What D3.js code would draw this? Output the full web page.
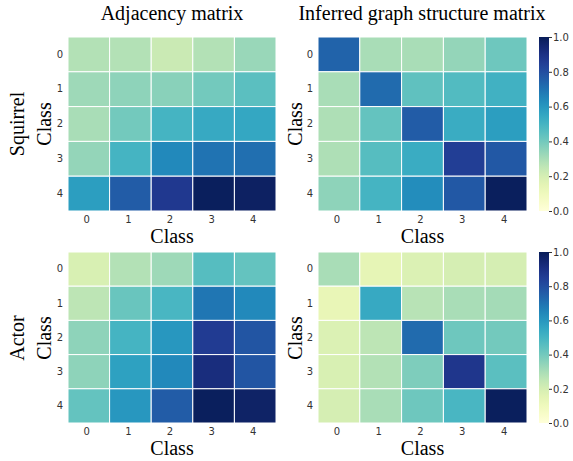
<!DOCTYPE html>
<html>
<head>
<meta charset="utf-8">
<script src="https://cdn.jsdelivr.net/npm/d3@7"></script>
<style>
body { margin: 0; background: #fff; }
svg { display: block; }
.tick text { font-family: "DejaVu Sans", sans-serif; }
</style>
</head>
<body>
<svg id="chart" width="573" height="461"></svg>
<script>
// class indices
var classes = [0, 1, 2, 3, 4];
var cbTicks = [0, 0.2, 0.4, 0.6, 0.8, 1.0];

// values (rows = class 0..4)
var squirrelAdj = [
	[0.28, 0.28, 0.23, 0.28, 0.33],
	[0.32, 0.35, 0.36, 0.40, 0.45],
	[0.30, 0.40, 0.50, 0.54, 0.55],
	[0.34, 0.50, 0.64, 0.70, 0.71],
	[0.58, 0.76, 0.87, 0.99, 0.98]
];
var squirrelInf = [
	[0.74, 0.30, 0.30, 0.34, 0.41],
	[0.30, 0.72, 0.44, 0.47, 0.51],
	[0.29, 0.43, 0.76, 0.53, 0.58],
	[0.29, 0.46, 0.53, 0.85, 0.77],
	[0.35, 0.50, 0.63, 0.77, 0.99]
];
var actorAdj = [
	[0.19, 0.28, 0.32, 0.46, 0.43],
	[0.26, 0.42, 0.49, 0.69, 0.64],
	[0.35, 0.50, 0.60, 0.86, 0.78],
	[0.35, 0.57, 0.64, 0.92, 0.78],
	[0.43, 0.60, 0.76, 0.99, 0.97]
];
var actorInf = [
	[0.30, 0.14, 0.18, 0.20, 0.20],
	[0.13, 0.54, 0.27, 0.30, 0.31],
	[0.18, 0.26, 0.72, 0.41, 0.40],
	[0.19, 0.28, 0.38, 0.88, 0.45],
	[0.20, 0.30, 0.41, 0.49, 0.99]
];

var svg = d3.select('#chart');
var color = d3.scaleSequential(d3.interpolateYlGnBu).domain([0, 1]);
var serif = '"Liberation Serif", "Times New Roman", serif';

// gradient for the colorbars
var grad = svg.append('defs').append('linearGradient')
	.attr('id', 'cbgrad')
	.attr('x1', 0).attr('y1', 1).attr('x2', 0).attr('y2', 0);
d3.range(0, 1.0001, 0.05).forEach(function(t) {
	grad.append('stop').attr('offset', t).attr('stop-color', color(t));
});

function drawHeatmap(data, x0, x1, y0, y1) {
	var x = d3.scaleBand().domain(classes).range([x0, x1]);
	var y = d3.scaleBand().domain(classes).range([y0, y1]);
	var g = svg.append('g');

	data.forEach(function(row, i) {
		g.selectAll(null)
			.data(row)
			.enter()
			.append('rect')
			.attr('x', function(d, j) { return x(classes[j]); })
			.attr('y', y(classes[i]))
			.attr('width', x.bandwidth())
			.attr('height', y.bandwidth())
			.style('fill', function(d) { return color(d); })
			.style('stroke', '#fff')
			.style('stroke-width', 1);
	});

	var xa = g.append('g')
		.attr('transform', 'translate(-2,' + (y1 + 3) + ')')
		.call(d3.axisBottom(x).tickSize(0).tickPadding(2));
	var ya = g.append('g')
		.attr('transform', 'translate(' + (x0 - 4) + ',0)')
		.call(d3.axisLeft(y).tickSize(0).tickPadding(1));
	[xa, ya].forEach(function(a) {
		a.select('.domain').remove();
		a.selectAll('text').style('font-size', '10px').style('fill', '#333');
	});

	// x label
	g.append('text')
		.attr('x', (x0 + x1) / 2)
		.attr('y', y1 + 32)
		.attr('text-anchor', 'middle')
		.style('font-family', serif)
		.style('font-size', '20px')
		.text('Class');
	return g;
}

function drawColorbar(x0, y0, y1) {
	var s = d3.scaleLinear().domain([0, 1]).range([y1, y0]);
	svg.append('rect')
		.attr('x', x0).attr('y', y0)
		.attr('width', 10).attr('height', y1 - y0)
		.style('fill', 'url(#cbgrad)');
	var a = svg.append('g')
		.attr('transform', 'translate(' + (x0 + 10) + ',0)')
		.call(d3.axisRight(s).tickValues(cbTicks).tickFormat(d3.format('.1f')).tickSize(3).tickPadding(1));
	a.select('.domain').remove();
	a.selectAll('line').style('stroke', '#333');
	a.selectAll('text').style('font-size', '10px').style('fill', '#333');
}

function yLabel(x, cy, txt) {
	svg.append('text')
		.attr('transform', 'translate(' + x + ',' + cy + ') rotate(-90)')
		.attr('text-anchor', 'middle')
		.style('font-family', serif)
		.style('font-size', '20px')
		.text(txt);
}

function title(cx, txt) {
	svg.append('text')
		.attr('x', cx).attr('y', 20)
		.attr('text-anchor', 'middle')
		.style('font-family', serif)
		.style('font-size', '20px')
		.text(txt);
}

// top row: Squirrel
drawHeatmap(squirrelAdj, 68, 276, 37, 211);
drawHeatmap(squirrelInf, 318, 527, 37, 211);
drawColorbar(539, 37, 211);

// bottom row: Actor
drawHeatmap(actorAdj, 68, 276, 252, 423);
drawHeatmap(actorInf, 318, 527, 252, 423);
drawColorbar(539, 252, 423);

title(172, 'Adjacency matrix');
title(422, 'Inferred graph structure matrix');

yLabel(24, 124, 'Squirrel');
yLabel(51, 124, 'Class');
yLabel(302, 124, 'Class');
yLabel(24, 338, 'Actor');
yLabel(51, 338, 'Class');
yLabel(302, 338, 'Class');
</script>
</body>
</html>
